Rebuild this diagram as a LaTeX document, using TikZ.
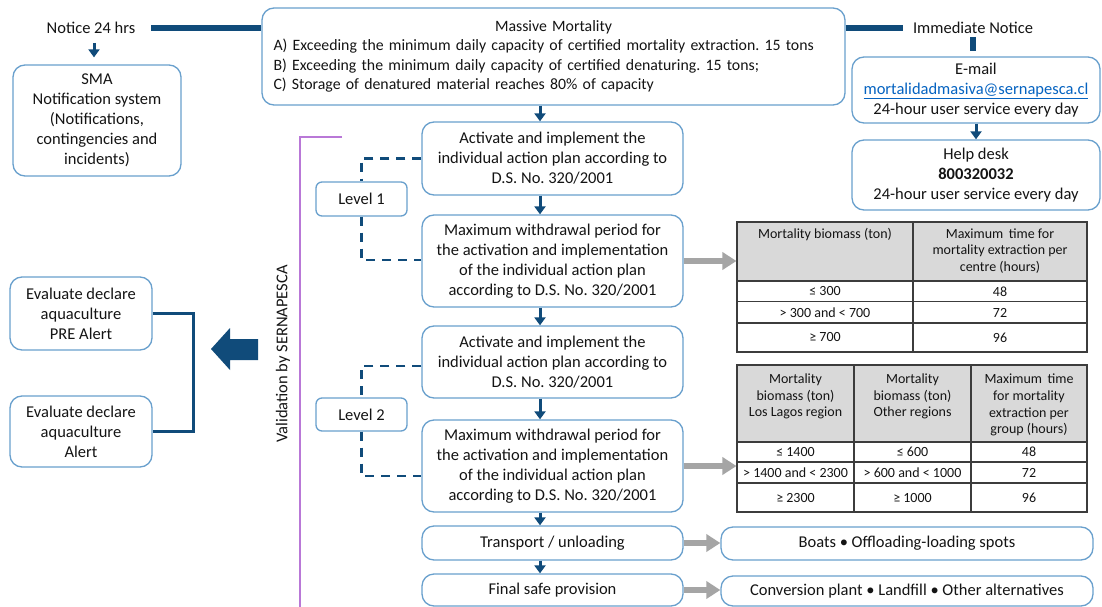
\documentclass[tikz,border=0pt]{standalone}
\usepackage{fontspec}
\setmainfont{Carlito}
\usetikzlibrary{arrows.meta}
\definecolor{dblue}{RGB}{16,75,122}
\definecolor{boxblue}{RGB}{105,160,205}
\definecolor{arrgray}{RGB}{165,165,165}
\definecolor{hdrgray}{RGB}{217,217,217}
\definecolor{tabline}{RGB}{60,60,60}
\definecolor{valpurple}{RGB}{185,120,215}
\definecolor{txt}{RGB}{20,20,20}
\definecolor{linkblue}{RGB}{5,99,193}
\newcommand\mainfs{\fontsize{16.5}{20}\selectfont\frenchspacing}
\newcommand\massfs{\fontsize{15.8}{19.5}\selectfont\frenchspacing}
\newcommand\tabfs{\fontsize{14}{16.8}\selectfont\frenchspacing}
\tikzset{
  box/.style={draw=boxblue, line width=1.3pt, rounded corners=12pt, align=center, inner sep=0pt, fill=white, text=txt, font=\mainfs},
  lvlbox/.style={box, rounded corners=6pt},
  lbl/.style={inner sep=2pt, text=txt, font=\mainfs},
  darr/.style={-{Triangle[width=11pt,length=8pt]}, line width=3pt, draw=dblue},
  garr/.style={-{Triangle[width=17pt,length=14pt]}, line width=5.5pt, draw=arrgray},
  thickbar/.style={line width=6pt, draw=dblue},
  dashc/.style={draw=dblue, line width=2.5pt, dash pattern=on 9pt off 7pt},
  tabl/.style={draw=tabline, line width=1.1pt},
  cell/.style={inner sep=0pt, align=center, text=txt, font=\tabfs},
}
\begin{document}
\begin{tikzpicture}[x=1pt,y=-1pt]
\useasboundingbox[fill=white] (0,0) rectangle (1102,607);

% top labels
\node[lbl] (n24) at (91,28) {Notice 24 hrs};
\node[lbl] (immed) at (973,28) {Immediate Notice};

% boxes
\node[box, minimum width=168pt, minimum height=111pt] (sma) at (97,120.5)
  {SMA\\Notification system\\(Notifications,\\contingencies and\\incidents)};
\node[box, font=\massfs, minimum width=583pt, minimum height=97pt, align=left, text width=560pt] (mass) at (553.5,56.5)
  {\makebox[\linewidth]{Massive Mortality}\\
   A) Exceeding the minimum daily capacity of certified mortality extraction. 15 tons\\
   B) Exceeding the minimum daily capacity of certified denaturing. 15 tons;\\
   C) Storage of denatured material reaches 80\% of capacity};
\node[box, minimum width=248pt, minimum height=66pt] (email) at (976,90)
  {E-mail\\\textcolor{linkblue}{\underline{mortalidadmasiva@sernapesca.cl}}\\24-hour user service every day};
\node[box, minimum width=248pt, minimum height=70pt] (help) at (976,175)
  {Help desk\\\textbf{800320032}\\24-hour user service every day};

\node[box, minimum width=261pt, minimum height=73pt] (b1) at (552.5,158.5)
  {Activate and implement the\\individual action plan according to\\D.S. No. 320/2001};
\node[box, minimum width=261pt, minimum height=92pt] (b2) at (552.5,261)
  {Maximum withdrawal period for\\the activation and implementation\\of the individual action plan\\according to D.S. No. 320/2001};
\node[box, minimum width=261pt, minimum height=72pt] (b3) at (552.5,362)
  {Activate and implement the\\individual action plan according to\\D.S. No. 320/2001};
\node[box, minimum width=261pt, minimum height=92pt] (b4) at (552.5,466)
  {Maximum withdrawal period for\\the activation and implementation\\of the individual action plan\\according to D.S. No. 320/2001};
\node[box, minimum width=261pt, minimum height=34pt] (tr) at (552.5,543) {Transport / unloading};
\node[box, minimum width=261pt, minimum height=32pt] (fin) at (552.5,590) {Final safe provision};
\node[box, minimum width=372pt, minimum height=33pt] (boats) at (907,543.5) {Boats \textbullet\ Offloading-loading spots};
\node[box, minimum width=372pt, minimum height=30pt] (conv) at (907,591) {Conversion plant \textbullet\ Landfill \textbullet\ Other alternatives};

\node[lvlbox, minimum width=91pt, minimum height=34pt] (lvl1) at (361.5,199) {Level 1};
\node[lvlbox, minimum width=91pt, minimum height=33pt] (lvl2) at (361.5,414.5) {Level 2};

\node[box, minimum width=142pt, minimum height=73pt] (pre) at (81,313.5) {Evaluate declare\\aquaculture\\PRE Alert};
\node[box, minimum width=142pt, minimum height=71pt] (alert) at (81,431.5) {Evaluate declare\\aquaculture\\Alert};

\node[lbl, rotate=90] (valid) at (283,354) {Validation by SERNAPESCA};

% top connectors
\draw[thickbar] ([xshift=14pt]n24.east) -- (n24.east -| mass.west);
\draw[thickbar] (mass.east |- immed.west) -- ([xshift=-8pt]immed.west);
\draw[thickbar] ([yshift=-1pt]immed.south) -- ([yshift=5pt]immed.south |- email.north);
\draw[darr] ([xshift=3pt,yshift=-7pt]n24.south) -- ([xshift=3pt,yshift=7pt]n24.south |- sma.north);
\draw[darr] (email.south) -- (help.north);

% main column arrows
\draw[darr] ([xshift=-12.5pt]b1.north |- mass.south) -- ([xshift=-12.5pt]b1.north);
\draw[darr] ([xshift=-12.5pt]b1.south) -- ([xshift=-12.5pt]b2.north);
\draw[darr] ([xshift=-12.5pt]b2.south) -- ([xshift=-12.5pt]b3.north);
\draw[darr] ([xshift=-12.5pt]b3.south) -- ([xshift=-12.5pt]b4.north);
\draw[darr] ([xshift=-12.5pt]b4.south) -- ([xshift=-12.5pt]tr.north);
\draw[darr] ([xshift=-12.5pt]tr.south) -- ([xshift=-12.5pt]fin.north);

% level dashed links
\draw[dashc] (b1.west) -| (lvl1.north);
\draw[dashc] (lvl1.south) |- ([yshift=1pt]b2.west);
\draw[dashc] ([yshift=-4pt]b3.west) -| (lvl2.north);
\draw[dashc] (lvl2.south) |- ([yshift=-10pt]b4.west);

% validation line
\coordinate (vtop) at (342,137);
\coordinate (vbot) at (300,607);
\draw[draw=valpurple, line width=1.3pt] (vtop) -| (vbot);

% left bracket and big arrow
\draw[draw=dblue, line width=3pt] (pre.east) -- ++(41,0) |- (alert.east);
\fill[dblue] (258,339) -- (230,339) -- (230,328) -- (211,349) -- (230,370) -- (230,360) -- (258,360) -- cycle;

% table 1
\fill[hdrgray] (737,222) rectangle (1087,281);
\node[tabl, draw, minimum width=350pt, minimum height=130pt, inner sep=0pt] (tabA) at (912,287) {};
\draw[tabl] (913,222) -- (913,352);
\draw[tabl] (737,281) -- (1087,281);
\draw[tabl] (737,301.5) -- (1087,301.5);
\draw[tabl] (737,323) -- (1087,323);
\node[cell] (a11) at (825,235) {Mortality biomass (ton)};
\node[cell] (a12) at (1000,251) {Maximum\, time for\\mortality extraction per\\centre (hours)};
\node[cell] (a21) at (825,291.5) {≤ 300};
\node[cell] (a22) at (1000,291.5) {48};
\node[cell] (a31) at (825,312.5) {> 300 and < 700};
\node[cell] (a32) at (1000,312.5) {72};
\node[cell] (a41) at (825,337.5) {≥ 700};
\node[cell] (a42) at (1000,337.5) {96};

% table 2
\fill[hdrgray] (737,365) rectangle (1087,442);
\node[tabl, draw, minimum width=350pt, minimum height=147pt, inner sep=0pt] (tabB) at (912,438.5) {};
\draw[tabl] (854,365) -- (854,512);
\draw[tabl] (971,365) -- (971,512);
\draw[tabl] (737,442) -- (1087,442);
\draw[tabl] (737,462) -- (1087,462);
\draw[tabl] (737,483) -- (1087,483);
\node[cell] (c11) at (795.5,396.5) {Mortality\\biomass (ton)\\Los Lagos region};
\node[cell] (c12) at (912.5,396.5) {Mortality\\biomass (ton)\\Other regions};
\node[cell] (c13) at (1029,405) {Maximum\, time\\for mortality\\extraction per\\group (hours)};
\node[cell] (c21) at (795.5,452) {≤ 1400};
\node[cell] (c22) at (912.5,452) {≤ 600};
\node[cell] (c23) at (1029,452) {48};
\node[cell] (c31) at (795.5,472.5) {> 1400 and < 2300};
\node[cell] (c32) at (912.5,472.5) {> 600 and < 1000};
\node[cell] (c33) at (1029,472.5) {72};
\node[cell] (c41) at (795.5,497.5) {≥ 2300};
\node[cell] (c42) at (912.5,497.5) {≥ 1000};
\node[cell] (c43) at (1029,497.5) {96};

% gray arrows
\draw[garr] (b2.east) -- (b2.east -| tabA.west);
\draw[garr] (b4.east) -- (b4.east -| tabB.west);
\draw[garr] (tr.east) -- (tr.east -| boats.west);
\draw[garr] (fin.east) -- (fin.east -| conv.west);
\end{tikzpicture}
\end{document}
